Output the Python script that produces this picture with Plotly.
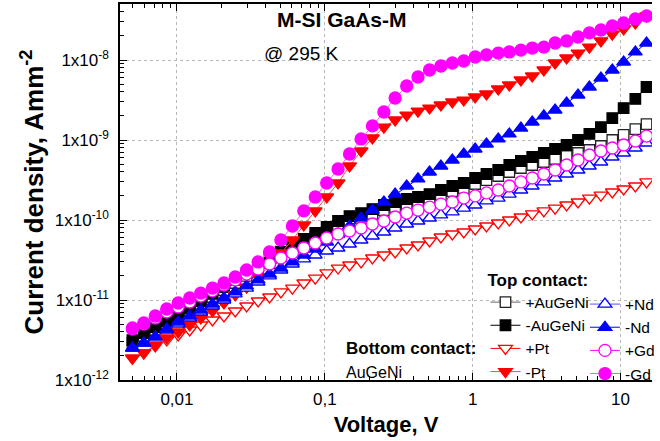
import plotly.graph_objects as go

# Voltage (V)
voltage = [0.00500, 0.00597, 0.00714, 0.00853, 0.0102, 0.0122, 0.0145, 0.0174, 0.0208, 0.0248,
           0.0296, 0.0354, 0.0423, 0.0505, 0.0604, 0.0721, 0.0862, 0.103, 0.123, 0.147,
           0.176, 0.210, 0.251, 0.299, 0.358, 0.427, 0.511, 0.610, 0.729, 0.871,
           1.04, 1.24, 1.49, 1.77, 2.12, 2.53, 3.03, 3.61, 4.32, 5.16,
           6.16, 7.37, 8.80, 10.5, 12.6, 15.0]

# Current density (A mm^-2)
j_plus_augeni = [2.90e-12, 3.55e-12, 4.22e-12, 5.01e-12, 5.96e-12, 7.29e-12, 8.91e-12, 1.09e-11, 1.33e-11, 1.63e-11,
                 2.00e-11, 2.37e-11, 2.90e-11, 3.55e-11, 4.34e-11, 5.16e-11, 6.13e-11, 7.08e-11, 8.41e-11, 9.72e-11,
                 1.06e-10, 1.19e-10, 1.33e-10, 1.45e-10, 1.58e-10, 1.68e-10, 1.83e-10, 2.05e-10, 2.30e-10, 2.51e-10,
                 2.82e-10, 3.16e-10, 3.55e-10, 3.98e-10, 4.47e-10, 4.87e-10, 5.31e-10, 5.79e-10, 6.31e-10, 6.88e-10,
                 7.50e-10, 8.41e-10, 1.00e-9, 1.16e-9, 1.37e-9, 1.58e-9]
j_minus_augeni = [3.16e-12, 3.87e-12, 4.60e-12, 5.46e-12, 6.49e-12, 7.94e-12, 9.72e-12, 1.19e-11, 1.45e-11, 1.78e-11,
                  2.18e-11, 2.66e-11, 3.26e-11, 3.98e-11, 4.87e-11, 5.79e-11, 6.88e-11, 8.18e-11, 9.72e-11, 1.12e-10,
                  1.22e-10, 1.37e-10, 1.54e-10, 1.68e-10, 1.83e-10, 1.94e-10, 2.11e-10, 2.37e-10, 2.66e-10, 2.90e-10,
                  3.35e-10, 3.76e-10, 4.22e-10, 4.87e-10, 5.46e-10, 6.13e-10, 6.88e-10, 7.72e-10, 8.66e-10, 1.00e-9,
                  1.19e-9, 1.45e-9, 1.88e-9, 2.51e-9, 3.26e-9, 4.60e-9]
j_plus_pt = [1.88e-12, 2.18e-12, 2.66e-12, 3.16e-12, 3.65e-12, 4.22e-12, 4.87e-12, 5.62e-12, 6.31e-12, 7.29e-12,
             8.41e-12, 9.72e-12, 1.09e-11, 1.26e-11, 1.41e-11, 1.63e-11, 1.88e-11, 2.18e-11, 2.51e-11, 2.74e-11,
             2.99e-11, 3.35e-11, 3.65e-11, 3.98e-11, 4.47e-11, 4.87e-11, 5.46e-11, 6.13e-11, 6.68e-11, 7.08e-11,
             7.72e-11, 8.41e-11, 9.17e-11, 1.00e-10, 1.09e-10, 1.19e-10, 1.30e-10, 1.41e-10, 1.54e-10, 1.68e-10,
             1.88e-10, 2.05e-10, 2.24e-10, 2.44e-10, 2.66e-10, 2.99e-10]
j_minus_pt = [1.88e-12, 2.18e-12, 2.74e-12, 3.35e-12, 3.98e-12, 4.87e-12, 5.96e-12, 7.29e-12, 9.17e-12, 1.16e-11,
              1.45e-11, 1.94e-11, 2.66e-11, 3.87e-11, 5.62e-11, 8.66e-11, 1.30e-10, 1.94e-10, 2.90e-10, 4.73e-10,
              7.29e-10, 1.06e-9, 1.45e-9, 1.78e-9, 2.05e-9, 2.30e-9, 2.51e-9, 2.74e-9, 2.99e-9, 3.16e-9,
              3.45e-9, 3.76e-9, 4.34e-9, 4.87e-9, 5.62e-9, 6.31e-9, 7.50e-9, 9.17e-9, 1.06e-8, 1.22e-8,
              1.45e-8, 1.73e-8, 2.11e-8, 2.44e-8, 2.90e-8, 3.55e-8]
j_plus_nd = [2.51e-12, 2.90e-12, 3.45e-12, 4.22e-12, 5.01e-12, 5.96e-12, 7.08e-12, 8.41e-12, 1.00e-11, 1.19e-11,
             1.41e-11, 1.68e-11, 2.00e-11, 2.37e-11, 2.82e-11, 3.26e-11, 3.65e-11, 4.10e-11, 4.47e-11, 5.01e-11,
             5.62e-11, 6.31e-11, 7.08e-11, 7.94e-11, 8.91e-11, 9.72e-11, 1.06e-10, 1.16e-10, 1.26e-10, 1.41e-10,
             1.54e-10, 1.73e-10, 1.88e-10, 2.11e-10, 2.37e-10, 2.66e-10, 2.99e-10, 3.35e-10, 3.76e-10, 4.22e-10,
             4.73e-10, 5.31e-10, 6.13e-10, 6.88e-10, 7.94e-10, 9.17e-10]
j_minus_nd = [2.51e-12, 2.90e-12, 3.45e-12, 4.34e-12, 5.31e-12, 6.31e-12, 7.50e-12, 8.91e-12, 1.06e-11, 1.26e-11,
              1.50e-11, 1.78e-11, 2.11e-11, 2.51e-11, 2.99e-11, 3.65e-11, 4.34e-11, 5.31e-11, 6.68e-11, 8.41e-11,
              1.06e-10, 1.33e-10, 1.68e-10, 2.11e-10, 2.66e-10, 3.26e-10, 3.98e-10, 4.73e-10, 5.62e-10, 6.68e-10,
              7.72e-10, 8.91e-10, 1.03e-9, 1.19e-9, 1.41e-9, 1.68e-9, 2.00e-9, 2.37e-9, 2.90e-9, 3.65e-9,
              4.60e-9, 5.96e-9, 7.50e-9, 9.44e-9, 1.26e-8, 1.63e-8]
j_plus_gd = [4.34e-12, 5.01e-12, 5.96e-12, 7.08e-12, 8.18e-12, 9.44e-12, 1.12e-11, 1.30e-11, 1.54e-11, 1.78e-11,
             2.11e-11, 2.44e-11, 2.82e-11, 3.35e-11, 3.87e-11, 4.47e-11, 5.16e-11, 5.96e-11, 6.68e-11, 7.29e-11,
             7.94e-11, 8.91e-11, 9.72e-11, 1.09e-10, 1.22e-10, 1.33e-10, 1.45e-10, 1.58e-10, 1.68e-10, 1.88e-10,
             2.00e-10, 2.18e-10, 2.37e-10, 2.66e-10, 2.99e-10, 3.35e-10, 3.76e-10, 4.22e-10, 4.87e-10, 5.62e-10,
             6.49e-10, 7.29e-10, 7.94e-10, 8.66e-10, 9.72e-10, 1.12e-9]
j_minus_gd = [4.47e-12, 5.16e-12, 6.31e-12, 7.72e-12, 9.17e-12, 1.06e-11, 1.22e-11, 1.41e-11, 1.63e-11, 1.94e-11,
              2.37e-11, 2.99e-11, 3.98e-11, 5.62e-11, 8.41e-11, 1.30e-10, 1.94e-10, 2.90e-10, 4.34e-10, 6.68e-10,
              1.03e-9, 1.50e-9, 2.24e-9, 3.35e-9, 4.73e-9, 6.13e-9, 7.50e-9, 8.41e-9, 9.17e-9, 9.72e-9,
              1.09e-8, 1.16e-8, 1.22e-8, 1.26e-8, 1.33e-8, 1.41e-8, 1.45e-8, 1.63e-8, 1.73e-8, 1.94e-8,
              2.18e-8, 2.37e-8, 2.66e-8, 2.90e-8, 3.26e-8, 3.55e-8]

x_tickvals = [0.01, 0.1, 1, 10]
x_ticktext = ["0,01", "0,1", "1", "10"]
y_tickvals = [1e-12, 1e-11, 1e-10, 1e-9, 1e-8]
y_ticktext = ["1x10<sup>-12</sup>", "1x10<sup>-11</sup>", "1x10<sup>-10</sup>",
              "1x10<sup>-9</sup>", "1x10<sup>-8</sup>"]

FONT = "Liberation Sans, Arial, sans-serif"

series = [
    # name, data, symbol, marker fill, marker line, line color, size, legend
    ("+AuGeNi", j_plus_augeni, "square", "white", "#222222", "#666666", 10.5, "legend"),
    ("-AuGeNi", j_minus_augeni, "square", "black", "black", "black", 10.5, "legend"),
    ("+Pt", j_plus_pt, "triangle-down", "white", "red", "red", 12, "legend"),
    ("-Pt", j_minus_pt, "triangle-down", "red", "red", "#ff4a4a", 12, "legend"),
    ("+Nd", j_plus_nd, "triangle-up", "white", "blue", "#5555ff", 12, "legend2"),
    ("-Nd", j_minus_nd, "triangle-up", "blue", "blue", "blue", 12, "legend2"),
    ("+Gd", j_plus_gd, "circle", "white", "magenta", "magenta", 12, "legend2"),
    ("-Gd", j_minus_gd, "circle", "magenta", "magenta", "#ff5cff", 12, "legend2"),
]

fig = go.Figure()
for name, ys, sym, fill, mline, lcol, size, leg in series:
    fig.add_trace(go.Scatter(
        x=voltage, y=ys, name=name, mode="lines+markers",
        line=dict(color=lcol, width=1),
        marker=dict(symbol=sym, size=size, color=fill, line=dict(color=mline, width=1.3)),
        legend=leg,
    ))

fig.update_layout(
    width=660, height=441,
    margin=dict(l=120, r=0, t=4, b=61),
    paper_bgcolor="white", plot_bgcolor="white",
    font=dict(family=FONT, color="black", size=17),
    legend=dict(
        title=dict(text="<b>Top contact:</b>", font=dict(size=17, family=FONT)),
        x=0.687, y=0.310, xanchor="left", yanchor="top",
        bgcolor="rgba(0,0,0,0)", borderwidth=0,
        font=dict(size=15.5, family=FONT), tracegroupgap=0,
    ),
    legend2=dict(
        x=0.874, y=0.246, xanchor="left", yanchor="top",
        bgcolor="rgba(0,0,0,0)", borderwidth=0,
        font=dict(size=15.5, family=FONT), tracegroupgap=0,
    ),
    xaxis=dict(
        type="log", range=[-2.385, 1.213], automargin=False,
        tickmode="array", tickvals=x_tickvals, ticktext=x_ticktext,
        ticks="inside", ticklen=7, tickwidth=1, tickcolor="black",
        showline=True, linecolor="black", linewidth=1.5, mirror="ticks",
        showgrid=True, gridcolor="#b8b8b8", griddash="dot", gridwidth=1,
        zeroline=False, tickfont=dict(size=17, family=FONT),
        ticklabelstandoff=3,
        minor=dict(ticks="inside", ticklen=4, tickcolor="black", dtick="D1", showgrid=False),
        title=dict(text="<b>Voltage, V</b>", font=dict(size=22, family=FONT), standoff=8),
    ),
    yaxis=dict(
        type="log", range=[-12, -7.3], automargin=False,
        tickmode="array", tickvals=y_tickvals, ticktext=y_ticktext,
        ticks="inside", ticklen=7, tickwidth=1, tickcolor="black",
        showline=True, linecolor="black", linewidth=1.5, mirror=False,
        showgrid=True, gridcolor="#b8b8b8", griddash="dot", gridwidth=1,
        zeroline=False, tickfont=dict(size=17, family=FONT),
        ticklabelstandoff=6,
        minor=dict(ticks="inside", ticklen=4, tickcolor="black", dtick="D1", showgrid=False),
        title=dict(text="<b>Current density, Amm<sup>-2</sup></b>", font=dict(size=26, family=FONT), standoff=4),
    ),
)

def px_to_paper(px, py):
    return (px - 120) / 540, (380 - py) / 376

annots = [
    ("<b>M-SI GaAs-M</b>", 277, 20, 21),
    ("@ 295 K", 264, 53, 19),
    ("<b>Bottom contact:</b>", 347, 348, 17),
    ("AuGeNi", 347, 372, 16),
]
for text, px, py, fs in annots:
    ax, ay = px_to_paper(px, py)
    fig.add_annotation(text=text, x=ax, y=ay, xref="paper", yref="paper",
                       xanchor="left", yanchor="middle", align="left", showarrow=False,
                       font=dict(size=fs, family=FONT, color="black"))

fig.write_html("out.html", config={"displayModeBar": False},
               post_script="document.body.style.margin='0px';")
